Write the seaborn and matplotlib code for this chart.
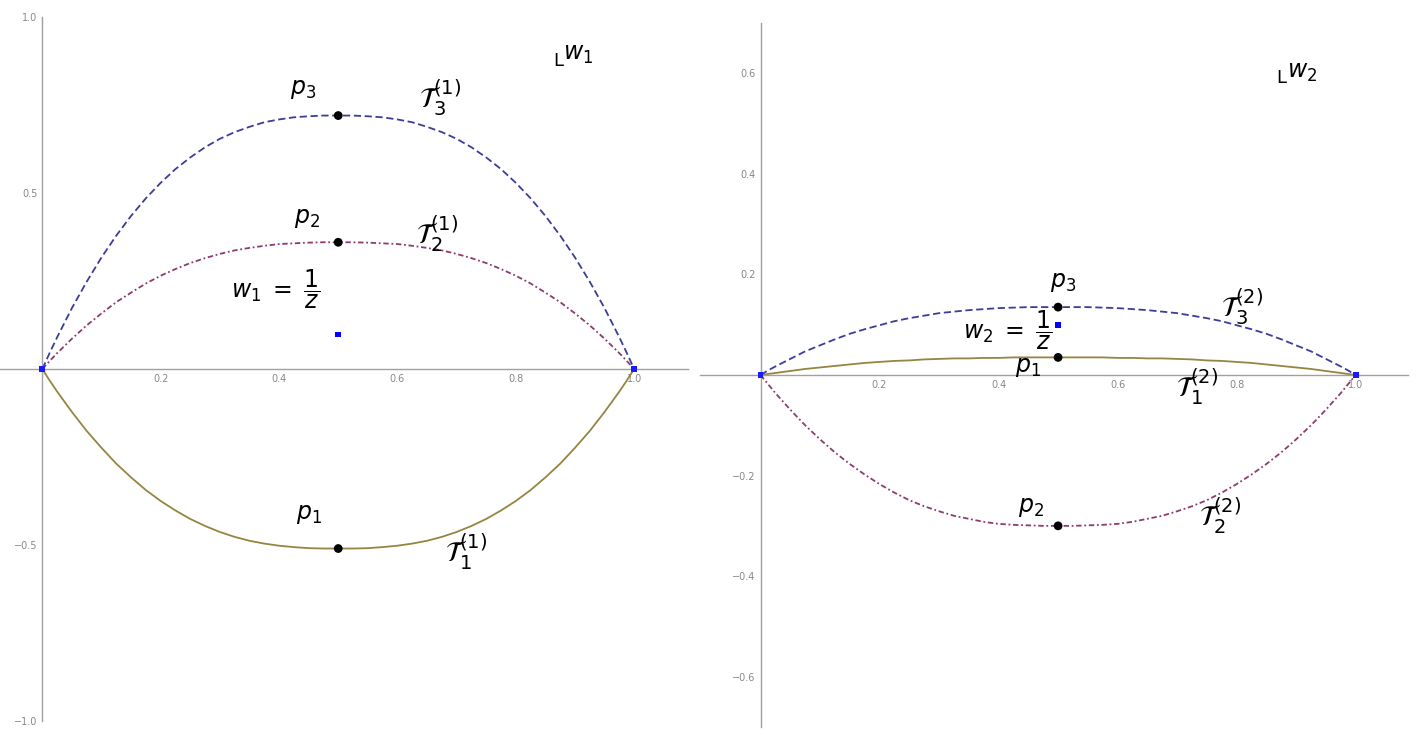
import numpy as np
import pandas as pd
import matplotlib
matplotlib.use("Agg")
import matplotlib.pyplot as plt
import seaborn as sns
from matplotlib.ticker import FixedLocator, MultipleLocator

# ---------------- data ----------------
X = [0.0, 0.0125, 0.025, 0.05, 0.075, 0.1, 0.125, 0.15, 0.175, 0.2, 0.225, 0.25, 0.275,
     0.3, 0.325, 0.35, 0.375, 0.4, 0.425, 0.45, 0.475, 0.5,
     0.525, 0.55, 0.575, 0.6, 0.625, 0.65, 0.675, 0.7, 0.725, 0.75, 0.775, 0.8, 0.825,
     0.85, 0.875, 0.9, 0.925, 0.95, 0.975, 0.9875, 1.0]

# left panel  (w1 = 1/z)
T1_left = [0, -0.033, -0.064, -0.122, -0.176, -0.224, -0.269, -0.308, -0.344, -0.375,
           -0.402, -0.426, -0.446, -0.463, -0.477, -0.488, -0.496, -0.502, -0.506, -0.509,
           -0.510, -0.51,
           -0.510, -0.509, -0.506, -0.502, -0.496, -0.488, -0.477, -0.463, -0.446, -0.426,
           -0.402, -0.375, -0.344, -0.308, -0.269, -0.224, -0.176, -0.122, -0.064, -0.033, 0]
T2_left = [0, 0.023, 0.045, 0.086, 0.124, 0.158, 0.190, 0.217, 0.243, 0.265,
           0.284, 0.301, 0.315, 0.327, 0.337, 0.344, 0.350, 0.355, 0.357, 0.359,
           0.360, 0.36,
           0.360, 0.359, 0.357, 0.355, 0.350, 0.344, 0.337, 0.327, 0.315, 0.301,
           0.284, 0.265, 0.243, 0.217, 0.190, 0.158, 0.124, 0.086, 0.045, 0.023, 0]
T3_left = [0, 0.046, 0.090, 0.173, 0.248, 0.317, 0.379, 0.435, 0.485, 0.529,
           0.568, 0.601, 0.630, 0.654, 0.673, 0.688, 0.701, 0.709, 0.715, 0.718,
           0.720, 0.72,
           0.720, 0.718, 0.715, 0.709, 0.701, 0.688, 0.673, 0.654, 0.630, 0.601,
           0.568, 0.529, 0.485, 0.435, 0.379, 0.317, 0.248, 0.173, 0.090, 0.046, 0]

# right panel (w2 = 1/z)
T1_right = [0, 0.002, 0.004, 0.008, 0.012, 0.015, 0.018, 0.021, 0.024, 0.026,
            0.028, 0.029, 0.031, 0.032, 0.033, 0.033, 0.034, 0.034, 0.035, 0.035,
            0.035, 0.035,
            0.035, 0.035, 0.035, 0.034, 0.034, 0.033, 0.033, 0.032, 0.031, 0.029,
            0.028, 0.026, 0.024, 0.021, 0.018, 0.015, 0.012, 0.008, 0.004, 0.002, 0]
T2_right = [0, -0.018, -0.036, -0.069, -0.100, -0.128, -0.154, -0.177, -0.198, -0.217,
            -0.234, -0.249, -0.261, -0.271, -0.280, -0.286, -0.292, -0.296, -0.298, -0.299,
            -0.300, -0.30,
            -0.300, -0.299, -0.298, -0.296, -0.292, -0.286, -0.280, -0.271, -0.261, -0.249,
            -0.234, -0.217, -0.198, -0.177, -0.154, -0.128, -0.100, -0.069, -0.036, -0.018, 0]
T3_right = [0, 0.009, 0.017, 0.032, 0.047, 0.059, 0.071, 0.082, 0.091, 0.099,
            0.107, 0.113, 0.118, 0.123, 0.126, 0.129, 0.131, 0.133, 0.134, 0.135,
            0.135, 0.135,
            0.135, 0.135, 0.134, 0.133, 0.131, 0.129, 0.126, 0.123, 0.118, 0.113,
            0.107, 0.099, 0.091, 0.082, 0.071, 0.059, 0.047, 0.032, 0.017, 0.009, 0]

# marked points
end_x = [0.0, 1.0]
end_y = [0.0, 0.0]
p_left_x = [0.5, 0.5, 0.5]
p_left_y = [-0.51, 0.36, 0.72]
p_right_x = [0.5, 0.5, 0.5]
p_right_y = [0.035, -0.30, 0.135]
w1_point = (0.5, 0.098)
w2_point = (0.5, 0.10)

x_ticks = [0.2, 0.4, 0.6, 0.8, 1.0]
x_tick_labels = ["0.2", "0.4", "0.6", "0.8", "1.0"]
yl_ticks = [-1.0, -0.5, 0.5, 1.0]
yl_tick_labels = ["\u22121.0", "\u22120.5", "0.5", "1.0"]
yr_ticks = [-0.6, -0.4, -0.2, 0.2, 0.4, 0.6]
yr_tick_labels = ["\u22120.6", "\u22120.4", "\u22120.2", "0.2", "0.4", "0.6"]

# ---------------- style ----------------
sns.set_style("white")
plt.rcParams['font.family'] = ['DejaVu Sans']
plt.rcParams['mathtext.fontset'] = 'dejavusans'
plt.rcParams['text.color'] = 'black'

C_BLUE = "#3b3d99"
C_PURP = "#8c3c6e"
C_GOLD = "#948640"
AX_COL = "#a0a0a0"
LW = 1.3

fig = plt.figure(figsize=(14.18, 7.38), dpi=100)
axL = fig.add_axes([0.0, 1 - 721 / 738, 688 / 1418, 704 / 738])
axR = fig.add_axes([700 / 1418, 1 - 727 / 738, 708 / 1418, 704 / 738])


def style_axes(ax, xlim, ylim, yt, ytl, yminor):
    ax.set_xlim(*xlim)
    ax.set_ylim(*ylim)
    for s in ["top", "right"]:
        ax.spines[s].set_visible(False)
    for s in ["left", "bottom"]:
        ax.spines[s].set_position(("data", 0))
        ax.spines[s].set_color(AX_COL)
        ax.spines[s].set_linewidth(1.0)
    ax.xaxis.set_major_locator(FixedLocator(x_ticks))
    ax.set_xticklabels(x_tick_labels)
    ax.xaxis.set_minor_locator(MultipleLocator(0.05))
    ax.yaxis.set_major_locator(FixedLocator(yt))
    ax.set_yticklabels(ytl)
    ax.yaxis.set_minor_locator(MultipleLocator(yminor))
    ax.tick_params(which="both", direction="in", color=AX_COL, width=0.8,
                   labelsize=7, labelcolor="#888888")
    ax.tick_params(which="major", length=4)
    ax.tick_params(which="minor", length=2.5)
    ax.set_xlabel("")
    ax.set_ylabel("")
    ax.patch.set_alpha(0)


def draw_curves(ax, t1, t2, t3):
    sns.lineplot(x=X, y=t1, ax=ax, color=C_GOLD, lw=LW, linestyle="-", sort=False)
    sns.lineplot(x=X, y=t2, ax=ax, color=C_PURP, lw=LW, dashes=(3, 1.5, 1, 1.5),
                 sort=False)
    sns.lineplot(x=X, y=t3, ax=ax, color=C_BLUE, lw=LW, dashes=(4, 2), sort=False)


FS = 17
FT = 20
TXT = dict(ha="center", va="center", color="black")

# ---------------- left panel ----------------
draw_curves(axL, T1_left, T2_left, T3_left)
sns.scatterplot(x=p_left_x, y=p_left_y, ax=axL, color="black", s=40, zorder=5,
                edgecolor="none")
sns.scatterplot(x=end_x, y=end_y, ax=axL, color="#1a1aff", marker="s", s=18,
                zorder=5, edgecolor="none")
sns.scatterplot(x=[w1_point[0]], y=[w1_point[1]], ax=axL, color="#0000ff",
                marker="s", s=18, zorder=5, edgecolor="none")
style_axes(axL, (-0.0715, 1.091), (-1.0, 1.0), yl_ticks, yl_tick_labels, 0.1)

axL.text(0.44, 0.795, r"$p_3$", fontsize=FS, **TXT)
axL.text(0.672, 0.77, r"$\mathcal{T}_3^{(1)}$", fontsize=FT, **TXT)
axL.text(0.447, 0.43, r"$p_2$", fontsize=FS, **TXT)
axL.text(0.667, 0.385, r"$\mathcal{T}_2^{(1)}$", fontsize=FT, **TXT)
axL.text(0.395, 0.225, r"$w_1\;=\;\dfrac{1}{z}$", fontsize=FS, **TXT)
axL.text(0.45, -0.413, r"$p_1$", fontsize=FS, **TXT)
axL.text(0.716, -0.518, r"$\mathcal{T}_1^{(1)}$", fontsize=FT, **TXT)
axL.text(0.872, 0.875, "L", fontsize=13, **TXT)
axL.text(0.905, 0.895, r"$w_1$", fontsize=FS, **TXT)

# ---------------- right panel ----------------
draw_curves(axR, T1_right, T2_right, T3_right)
sns.scatterplot(x=p_right_x, y=p_right_y, ax=axR, color="black", s=40, zorder=5,
                edgecolor="none")
sns.scatterplot(x=end_x, y=end_y, ax=axR, color="#1a1aff", marker="s", s=18,
                zorder=5, edgecolor="none")
sns.scatterplot(x=[w2_point[0]], y=[w2_point[1]], ax=axR, color="#0000ff",
                marker="s", s=18, zorder=5, edgecolor="none")
style_axes(axR, (-0.1017, 1.088), (-0.7, 0.7), yr_ticks, yr_tick_labels, 0.05)

axR.text(0.508, 0.185, r"$p_3$", fontsize=FS, **TXT)
axR.text(0.809, 0.135, r"$\mathcal{T}_3^{(2)}$", fontsize=FT, **TXT)
axR.text(0.415, 0.088, r"$w_2\;=\;\dfrac{1}{z}$", fontsize=FS, **TXT)
axR.text(0.45, 0.016, r"$p_1$", fontsize=FS, **TXT)
axR.text(0.734, -0.024, r"$\mathcal{T}_1^{(2)}$", fontsize=FT, **TXT)
axR.text(0.455, -0.262, r"$p_2$", fontsize=FS, **TXT)
axR.text(0.772, -0.28, r"$\mathcal{T}_2^{(2)}$", fontsize=FT, **TXT)
axR.text(0.875, 0.59, "L", fontsize=13, **TXT)
axR.text(0.91, 0.603, r"$w_2$", fontsize=FS, **TXT)

fig.savefig("out.png", dpi=100)
